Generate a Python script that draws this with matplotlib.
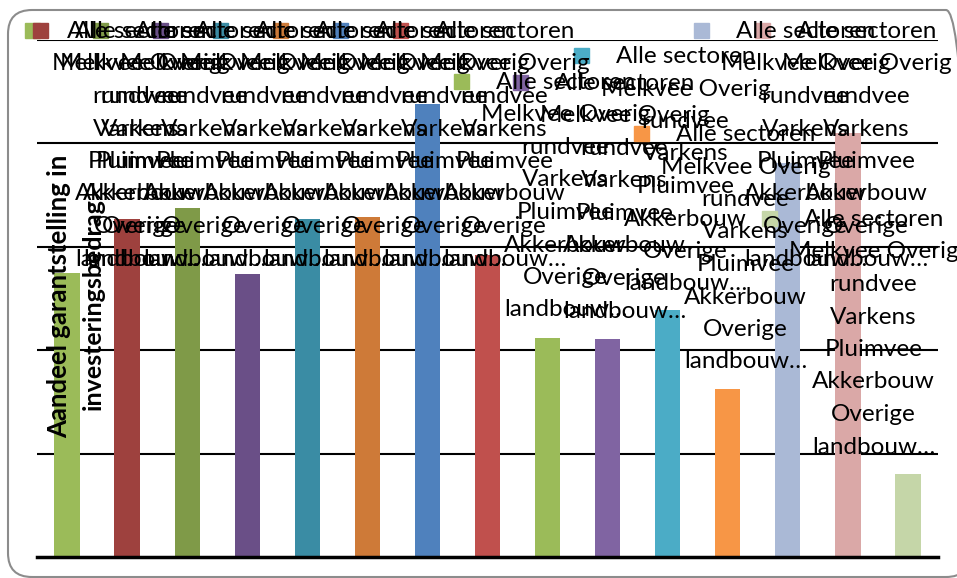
import matplotlib.pyplot as plt
from matplotlib.patches import Rectangle, FancyBboxPatch
from matplotlib.transforms import IdentityTransform

W, H = 957, 578
plt.rcParams['font.family'] = ['Lato', 'DejaVu Sans']

# bar values (share, %), one bar per series
values = [27.5, 32.7, 33.8, 27.4, 32.7, 32.9, 43.8, 29.2, 21.2, 21.1, 23.9, 16.2, 38.1, 41.0, 8.0]
colors = ['#9BBB59', '#9E413E', '#7F9A48', '#6A4F87', '#3A8CA4', '#CE7A38', '#4F81BD', '#C0504D',
          '#9BBB59', '#8064A2', '#4BACC6', '#F79646', '#AAB9D6', '#DAA8A7', '#C5D6A8']
# every legend entry carries the same wrapped label
label_lines = ['Alle sectoren', 'Melkvee Overig', 'rundvee', 'Varkens', 'Pluimvee',
               'Akkerbouw', 'Overige', 'landbouw…']
ylabel_lines = ['Aandeel garantstelling in', 'investeringsbedrag']
yticks = [10, 20, 30, 40, 50]

# legend entry spots in pixels (marker left, marker centre y from top)
leg_pos = [(25, 30), (33, 30), (93, 30), (153, 30), (213, 30), (273, 30), (333, 30), (393, 30),
           (454, 81), (513, 82), (574, 55), (634, 133), (694, 30), (755, 30), (762, 218)]

fs = 17.5
fig = plt.figure(figsize=(W / 100, H / 100), dpi=100)

# outer rounded frame
frame = FancyBboxPatch((8, 1), 962, H - 11, boxstyle='round,pad=0,rounding_size=24',
                       transform=IdentityTransform(), fill=False, ec='#8c8c8c', lw=1.5)
fig.add_artist(frame)

ax = fig.add_axes([37 / W, 1 - 557 / H, (938 - 37) / W, (557 - 40) / H])
ax.bar(range(len(values)), values, width=0.42, color=colors, zorder=2)
ax.set_xlim(-0.5, 14.5)
ax.set_ylim(0, 50)
ax.set_yticks(yticks)
ax.set_axisbelow(True)
ax.yaxis.grid(True, color='black', lw=1.5)
for s in ['left', 'right', 'top']:
    ax.spines[s].set_visible(False)
ax.spines['bottom'].set_linewidth(2.5)
ax.tick_params(left=False, bottom=False, labelleft=False, labelbottom=False)

# y label, drawn as two rotated lines
fig.text(59 / W, 1 - 296 / H, ylabel_lines[0], rotation=90, ha='center', va='center',
         fontsize=18.5, fontweight='bold', zorder=5)
fig.text(93 / W, 1 - 304 / H, ylabel_lines[1], rotation=90, ha='center', va='center',
         fontsize=18, fontweight='bold', zorder=5)

# the (broken) legend: every entry stacked on its own
for (mx, cy), c in zip(leg_pos, colors):
    fig.add_artist(Rectangle((mx, H - cy - 7.5), 15, 15, transform=IdentityTransform(),
                             color=c, zorder=6))
    cx = mx + 15 + 96.5
    for k, line in enumerate(label_lines):
        fig.text(cx / W, 1 - (cy + 8 + k * 32.5) / H, line, ha='center', va='baseline',
                 fontsize=fs, zorder=6)

fig.savefig('out.png', dpi=100)
